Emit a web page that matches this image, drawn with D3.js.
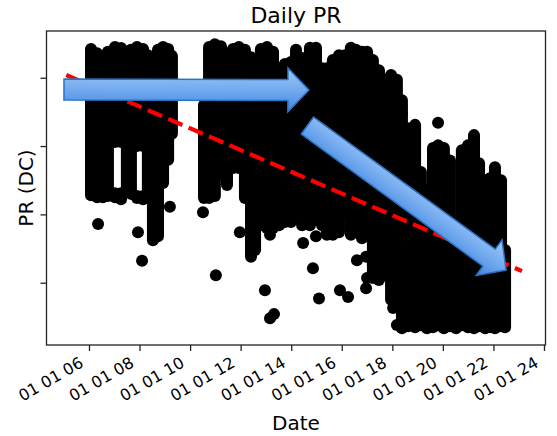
<!DOCTYPE html>
<html>
<head>
<meta charset="utf-8">
<script src="https://cdn.jsdelivr.net/npm/d3@7"></script>
<style>
  html, body { margin: 0; padding: 0; background: #fff; }
  svg { display: block; font-family: "DejaVu Sans", sans-serif; }
</style>
</head>
<body>
<svg id="chart" width="557" height="436"></svg>
<script>
// Daily PR (DC) readings, summarised per collection period:
// [decimal year, highest daily PR %, lowest daily PR %]
const periodRanges = [
  [2006.08, 94.2, 72.8], [2006.32, 93.6, 72.5], [2006.55, 91.1, 72.5], [2006.75, 93.8, 72.7],
  [2007.03, 94.5, 80.6], [2007.03, 73.1, 72.5], [2007.27, 94.35, 80.6], [2007.27, 73.1, 72.2],
  [2007.50, 93.2, 73.6], [2007.66, 94.1, 73.0], [2007.90, 94.5, 80.0], [2007.90, 72.7, 72.4],
  [2008.14, 94.2, 80.0], [2008.14, 72.7, 72.2], [2008.33, 93.3, 73.6], [2008.53, 91.4, 66.2],
  [2008.73, 94.1, 66.8], [2008.93, 94.5, 74.6], [2009.13, 94.2, 78.0], [2009.28, 93.2, 81.8],

  [2010.55, 86.0, 72.4], [2010.75, 94.5, 72.4], [2010.98, 94.9, 72.7], [2011.22, 94.6, 75.8],
  [2011.46, 93.6, 74.3], [2011.70, 94.2, 76.8], [2011.93, 94.5, 76.8], [2012.17, 94.1, 72.4],
  [2012.41, 93.0, 63.8], [2012.57, 92.6, 64.8], [2012.80, 94.2, 68.4], [2013.04, 94.5, 68.0],
  [2013.28, 93.8, 68.0], [2013.52, 91.4, 68.4], [2013.75, 92.0, 68.9],

  [2013.99, 92.3, 68.9], [2014.19, 94.1, 69.9], [2014.43, 92.9, 68.4], [2014.74, 94.4, 68.4],
  [2014.98, 94.4, 69.2], [2015.22, 91.4, 68.4], [2015.41, 91.4, 67.0], [2015.65, 92.6, 67.0],
  [2015.89, 93.3, 67.4], [2016.13, 93.3, 69.9], [2016.36, 94.4, 67.0], [2016.56, 94.1, 67.4],
  [2016.80, 93.8, 66.5], [2017.00, 93.8, 67.7], [2017.23, 92.6, 60.7], [2017.47, 91.1, 60.4],
  [2017.71, 89.7, 61.1], [2017.95, 90.4, 57.5], [2018.18, 89.7, 61.8],

  [2018.38, 86.7, 53.34], [2018.62, 82.6, 53.63], [2018.90, 83.1, 53.49], [2019.13, 76.2, 53.78],
  [2019.37, 73.6, 53.34], [2019.61, 79.7, 53.49], [2019.81, 80.1, 53.78], [2020.04, 79.7, 53.34],
  [2020.28, 77.9, 53.63], [2020.52, 65.1, 53.34], [2020.75, 79.4, 53.78], [2020.99, 80.1, 53.49],
  [2021.23, 81.6, 53.34], [2021.43, 77.5, 53.63], [2021.67, 75.0, 53.34], [2021.86, 75.3, 53.49],
  [2022.06, 76.9, 53.34], [2022.30, 75.0, 53.63], [2022.46, 64.8, 53.49]
];

// Single days that sit away from the main clusters: [decimal year, PR %]
const isolatedReadings = [
  [2006.36, 68.6], [2007.94, 67.4], [2008.10, 63.2], [2009.20, 71.1],
  [2010.51, 70.3], [2011.02, 61.1], [2011.97, 67.4], [2012.96, 58.9], [2013.16, 67.0],
  [2013.16, 54.8], [2013.32, 55.4],
  [2014.47, 65.8], [2014.86, 62.1], [2014.98, 66.8], [2015.10, 57.7], [2015.93, 58.9],
  [2016.25, 57.9], [2016.60, 63.3], [2016.96, 63.8], [2016.96, 59.2], [2017.00, 60.7],
  [2018.03, 56.3], [2018.18, 53.8],
  [2018.38, 84.8], [2019.81, 83.4]
];

// Linear degradation trend: end points [decimal year, PR %]
const trendEnds = [[2005.10, 90.4], [2023.13, 61.7]];

// Annotation arrows: [tail, tip], each [decimal year, PR %]
const trendArrows = [
  [[2005.01, 88.27], [2014.70, 88.20]],
  [[2014.64, 83.00], [2022.50, 61.85]]
];

const prTicks = [60, 70, 80, 90];
const yearTicks = [2006, 2008, 2010, 2012, 2014, 2016, 2018, 2020, 2022, 2024];
const yearDomain = [2004.32, 2024.06];
const prDomain = [50.88, 96.84];

function yearToDate(y) {
  const yr = Math.floor(y);
  const start = new Date(yr, 0, 1), end = new Date(yr + 1, 0, 1);
  return new Date(+start + (y - yr) * (end - start));
}

const plot = { left: 46.5, right: 545.5, top: 31, bottom: 345 };
const svg = d3.select("#chart");

const x = d3.scaleTime().domain(yearDomain.map(yearToDate)).range([plot.left, plot.right]);
const y = d3.scaleLinear().domain(prDomain).range([plot.bottom, plot.top]);

// Gradient for the arrow shapes
const defs = svg.append("defs");
const grad = defs.append("linearGradient")
  .attr("id", "arrowFill").attr("x1", 0).attr("y1", 0).attr("x2", 0).attr("y2", 1);
grad.append("stop").attr("offset", "0%").attr("stop-color", "#a2c9f7");
grad.append("stop").attr("offset", "55%").attr("stop-color", "#6ea7ee");
grad.append("stop").attr("offset", "100%").attr("stop-color", "#3f84de");

// Daily readings
const dots = svg.append("g");
dots.selectAll("line.range").data(periodRanges).join("line")
  .attr("class", "range")
  .attr("x1", d => x(yearToDate(d[0]))).attr("x2", d => x(yearToDate(d[0])))
  .attr("y1", d => y(d[1])).attr("y2", d => y(d[2]))
  .attr("stroke", "#000").attr("stroke-width", 12).attr("stroke-linecap", "round");
dots.selectAll("circle").data(isolatedReadings).join("circle")
  .attr("cx", d => x(yearToDate(d[0]))).attr("cy", d => y(d[1]))
  .attr("r", 6).attr("fill", "#000");

// Trend line
svg.append("path")
  .datum(trendEnds)
  .attr("d", d3.line().x(d => x(yearToDate(d[0]))).y(d => y(d[1])))
  .attr("fill", "none").attr("stroke", "#ff0000").attr("stroke-width", 4.2)
  .attr("stroke-dasharray", "15.5 6.7");

// Axes
const xAxis = svg.append("g").attr("transform", `translate(0,${plot.bottom})`)
  .call(d3.axisBottom(x)
    .tickValues(yearTicks.map(yr => new Date(yr, 0, 1)))
    .tickFormat(d3.timeFormat("%m %d %y"))
    .tickSize(6).tickSizeOuter(0));
xAxis.select(".domain").remove();
xAxis.selectAll(".tick line").attr("stroke", "#222").attr("stroke-width", 1.3);
xAxis.selectAll(".tick text")
  .attr("x", null).attr("y", 0).attr("dy", 0)
  .attr("text-anchor", "end")
  .attr("transform", "translate(-5,21) rotate(-30)")
  .attr("fill", "#000")
  .style("font-family", "DejaVu Sans, sans-serif")
  .style("font-size", "16px");

const yAxis = svg.append("g").attr("transform", `translate(${plot.left},0)`)
  .call(d3.axisLeft(y).tickValues(prTicks).tickFormat("").tickSize(6).tickSizeOuter(0));
yAxis.select(".domain").remove();
yAxis.selectAll(".tick line").attr("stroke", "#222").attr("stroke-width", 1.3);

// Frame
svg.append("rect")
  .attr("x", plot.left).attr("y", plot.top)
  .attr("width", plot.right - plot.left).attr("height", plot.bottom - plot.top)
  .attr("fill", "none").attr("stroke", "#222").attr("stroke-width", 1.3);

// Annotation arrows
const head = 21, bodyHalf = 10.5, headHalf = 22;
svg.append("g").selectAll("path").data(trendArrows).join("path")
  .attr("d", d => {
    const x0 = x(yearToDate(d[0][0])), y0 = y(d[0][1]);
    const x1 = x(yearToDate(d[1][0])), y1 = y(d[1][1]);
    const L = Math.hypot(x1 - x0, y1 - y0);
    return `M0,${-bodyHalf}L${L - head},${-bodyHalf}L${L - head},${-headHalf}L${L},0` +
           `L${L - head},${headHalf}L${L - head},${bodyHalf}L0,${bodyHalf}Z`;
  })
  .attr("transform", d => {
    const x0 = x(yearToDate(d[0][0])), y0 = y(d[0][1]);
    const x1 = x(yearToDate(d[1][0])), y1 = y(d[1][1]);
    const ang = Math.atan2(y1 - y0, x1 - x0) * 180 / Math.PI;
    return `translate(${x0},${y0}) rotate(${ang})`;
  })
  .attr("fill", "url(#arrowFill)")
  .attr("stroke", "#2a72c2").attr("stroke-width", 1.5).attr("stroke-linejoin", "miter");

// Titles
svg.append("text").attr("x", (plot.left + plot.right) / 2).attr("y", 22.7)
  .attr("text-anchor", "middle").style("font-size", "22px").attr("fill", "#000")
  .text("Daily PR");
svg.append("text").attr("x", (plot.left + plot.right) / 2).attr("y", 430)
  .attr("text-anchor", "middle").style("font-size", "20px").attr("fill", "#000")
  .text("Date");
svg.append("text").attr("transform", `translate(32.5,${(plot.top + plot.bottom) / 2}) rotate(-90)`)
  .attr("text-anchor", "middle").style("font-size", "20px").attr("fill", "#000")
  .text("PR (DC)");
</script>
</body>
</html>
